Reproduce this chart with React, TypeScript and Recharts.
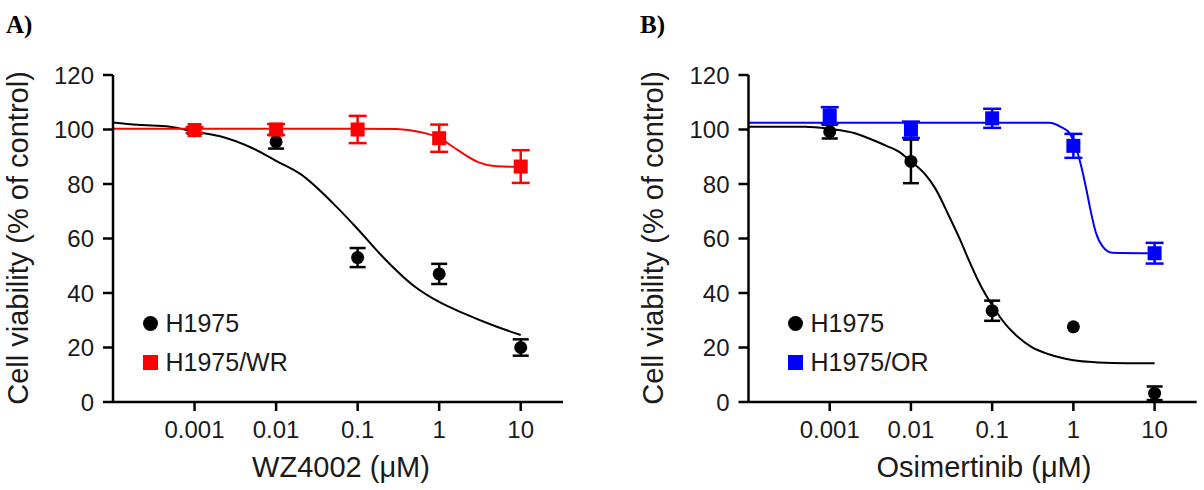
import React from 'react';
import { ComposedChart, Line, Scatter, XAxis, YAxis, ErrorBar, Legend } from 'recharts';

// Drug concentrations tested (µM)
const DOSES = [0.001, 0.01, 0.1, 1, 10];
const X_TICKS = [0.001, 0.01, 0.1, 1, 10];
const Y_TICKS = [0, 20, 40, 60, 80, 100, 120];
const X_DOMAIN: [number, number] = [0.0001, 33];

// Panel A – WZ4002
const A_H1975_MEAN = [99.5, 95.5, 53, 47, 20];
const A_H1975_SEM = [1, 2.5, 3.5, 3.7, 3];
const A_WR_MEAN = [99.8, 100, 100, 96.8, 86.4];
const A_WR_SEM = [1, 2, 5, 5, 6];

const A_H1975_FIT_X = [0.0001, 0.0002, 0.0005, 0.001, 0.002, 0.005, 0.01, 0.02, 0.05, 0.1, 0.2, 0.5, 1, 2, 5, 10];
const A_H1975_FIT_Y = [102.6, 101.7, 101.0, 99.2, 97.6, 93.3, 88.5, 83.6, 72.9, 63.5, 53.5, 42.4, 36.7, 32.5, 27.7, 24.6];
const A_WR_FIT_X = [0.0001, 0.001, 0.01, 0.1, 0.3, 0.6, 1, 1.5, 2, 3, 5, 10];
const A_WR_FIT_Y = [100.3, 100.3, 100.3, 100.3, 100.2, 99, 96.9, 93.5, 91, 88, 86.5, 86.3];

// Panel B – Osimertinib
const B_H1975_MEAN = [99.2, 88.3, 33.5, 27.6, 3.2];
const B_H1975_SEM = [2.5, 8, 3.7, 0, 2.5];
const B_OR_MEAN = [105.2, 99.9, 104.1, 94, 54.6];
const B_OR_SEM = [3, 3, 3.5, 4.4, 3.8];

const B_H1975_FIT_X = [0.0001, 0.0005, 0.001, 0.002, 0.003, 0.005, 0.007, 0.01, 0.015, 0.02, 0.03, 0.04, 0.05, 0.07, 0.1, 0.15, 0.2, 0.3, 0.5, 1, 2, 3, 10];
const B_H1975_FIT_Y = [101, 101, 100.2, 98.7, 96.8, 94, 92, 88.3, 83.5, 78.3, 67.7, 59.8, 53, 43.5, 35.5, 28.1, 24.3, 20.3, 17.5, 15.3, 14.5, 14.3, 14.2];
const B_OR_FIT_X = [0.0001, 0.5, 0.7, 0.9, 1.1, 1.25, 1.45, 1.65, 1.9, 2.3, 3, 10];
const B_OR_FIT_Y = [102.5, 102.5, 101, 98.6, 92.5, 86.5, 77.8, 69.5, 62, 57, 54.8, 54.6];

const SANS = '"Liberation Sans", Arial, Helvetica, sans-serif';
const SERIF = '"Liberation Serif", "Times New Roman", serif';
const TEXT = '#1a1a1a';
const BLACK = '#000000';
const RED = '#ff0000';
const BLUE = '#0000ff';

type Pt = { x: number; v: number; e: number };
const points = (xs: number[], ys: number[], es?: number[]): Pt[] =>
  xs.map((x, i) => ({ x, v: ys[i], e: es ? es[i] : 0 }));

const circleShape = (color: string) => (p: any) => (
  <circle cx={p.cx} cy={p.cy} r={6.5} fill={color} />
);
const squareShape = (color: string) => (p: any) => (
  <rect x={p.cx - 7} y={p.cy - 7} width={14} height={14} fill={color} />
);

type Item = { name: string; color: string; marker: 'circle' | 'square' };

const LegendBox = ({ items }: { items: Item[] }) => (
  <div style={{ fontFamily: SANS, fontSize: 25, color: TEXT }}>
    {items.map((it) => (
      <div key={it.name} style={{ display: 'flex', alignItems: 'center', height: 38.7 }}>
        <svg width={15} height={15} style={{ marginRight: 8, flex: 'none' }}>
          {it.marker === 'circle' ? (
            <circle cx={7.5} cy={7.5} r={7.5} fill={it.color} />
          ) : (
            <rect x={0} y={0} width={15} height={15} fill={it.color} />
          )}
        </svg>
        <span style={{ lineHeight: '25px', whiteSpace: 'nowrap' }}>{it.name}</span>
      </div>
    ))}
  </div>
);

type PanelProps = {
  left: number;
  width: number;
  marginLeft: number;
  marginRight: number;
  legendLeft: number;
  refMean: number[];
  refSem: number[];
  refFitX: number[];
  refFitY: number[];
  resName: string;
  resColor: string;
  resMean: number[];
  resSem: number[];
  resFitX: number[];
  resFitY: number[];
};

const Panel = (p: PanelProps) => {
  const refPts = points(DOSES, p.refMean, p.refSem);
  const resPts = points(DOSES, p.resMean, p.resSem);
  const refFit = points(p.refFitX, p.refFitY);
  const resFit = points(p.resFitX, p.resFitY);
  const items: Item[] = [
    { name: 'H1975', color: BLACK, marker: 'circle' },
    { name: p.resName, color: p.resColor, marker: 'square' },
  ];
  return (
    <div style={{ position: 'absolute', left: p.left, top: 0 }}>
      <ComposedChart
        width={p.width}
        height={490}
        margin={{ top: 75, right: p.marginRight, bottom: 48, left: p.marginLeft }}
      >
        <XAxis
          dataKey="x"
          type="number"
          scale="log"
          domain={X_DOMAIN}
          allowDataOverflow
          ticks={X_TICKS}
          tickFormatter={(v: number) => String(v)}
          height={40}
          tickSize={9}
          tickMargin={10}
          axisLine={{ stroke: BLACK, strokeWidth: 2.5 }}
          tickLine={{ stroke: BLACK, strokeWidth: 2.5 }}
          tick={{ fontSize: 24, fill: TEXT, fontFamily: SANS }}
        />
        <YAxis
          type="number"
          domain={[0, 120]}
          ticks={Y_TICKS}
          allowDataOverflow
          width={60}
          tickSize={10}
          tickMargin={9}
          axisLine={{ stroke: BLACK, strokeWidth: 2.5 }}
          tickLine={{ stroke: BLACK, strokeWidth: 2.5 }}
          tick={{ fontSize: 24, fill: TEXT, fontFamily: SANS }}
        />
        <Legend
          layout="vertical"
          align="center"
          verticalAlign="middle"
          wrapperStyle={{ left: p.legendLeft, top: 304, width: 200, height: 78 }}
          content={() => <LegendBox items={items} />}
        />
        <Line
          data={refFit}
          dataKey="v"
          type="monotone"
          stroke={BLACK}
          strokeWidth={2}
          dot={false}
          activeDot={false}
          legendType="none"
          isAnimationActive={false}
        />
        <Scatter
          name="H1975"
          data={refPts}
          dataKey="v"
          fill={BLACK}
          shape={circleShape(BLACK)}
          isAnimationActive={false}
        >
          <ErrorBar dataKey="e" direction="y" width={8} stroke={BLACK} strokeWidth={2.5} />
        </Scatter>
        <Line
          data={resFit}
          dataKey="v"
          type="monotone"
          stroke={p.resColor}
          strokeWidth={2}
          dot={false}
          activeDot={false}
          legendType="none"
          isAnimationActive={false}
        />
        <Scatter
          name={p.resName}
          data={resPts}
          dataKey="v"
          fill={p.resColor}
          shape={squareShape(p.resColor)}
          isAnimationActive={false}
        >
          <ErrorBar dataKey="e" direction="y" width={9} stroke={p.resColor} strokeWidth={2.5} />
        </Scatter>
      </ComposedChart>
    </div>
  );
};

const Titles = () => (
  <svg
    width={1204}
    height={490}
    style={{ position: 'absolute', left: 0, top: 0, pointerEvents: 'none' }}
  >
    <text x={6} y={33} fontFamily={SERIF} fontWeight="bold" fontSize={25} fill={BLACK}>A)</text>
    <text x={640} y={33} fontFamily={SERIF} fontWeight="bold" fontSize={25} fill={BLACK}>B)</text>
    <text
      x={28}
      y={238}
      transform="rotate(-90 28 238)"
      textAnchor="middle"
      fontFamily={SANS}
      fontSize={29}
      fill={TEXT}
    >
      Cell viability (% of control)
    </text>
    <text
      x={663}
      y={238}
      transform="rotate(-90 663 238)"
      textAnchor="middle"
      fontFamily={SANS}
      fontSize={29}
      fill={TEXT}
    >
      Cell viability (% of control)
    </text>
    <text x={341} y={477} textAnchor="middle" fontFamily={SANS} fontSize={29} fill={TEXT}>
      WZ4002 (μM)
    </text>
    <text x={984} y={477} textAnchor="middle" fontFamily={SANS} fontSize={29} fill={TEXT}>
      Osimertinib (μM)
    </text>
  </svg>
);

export default function App() {
  return (
    <div
      style={{
        position: 'absolute',
        left: 0,
        top: 0,
        width: 1204,
        height: 490,
        background: '#ffffff',
        overflow: 'hidden',
      }}
    >
      <Panel
        left={0}
        width={600}
        marginLeft={53}
        marginRight={37}
        legendLeft={142.5}
        refMean={A_H1975_MEAN}
        refSem={A_H1975_SEM}
        refFitX={A_H1975_FIT_X}
        refFitY={A_H1975_FIT_Y}
        resName="H1975/WR"
        resColor={RED}
        resMean={A_WR_MEAN}
        resSem={A_WR_SEM}
        resFitX={A_WR_FIT_X}
        resFitY={A_WR_FIT_Y}
      />
      <Panel
        left={600}
        width={604}
        marginLeft={88.5}
        marginRight={7.3}
        legendLeft={187.5}
        refMean={B_H1975_MEAN}
        refSem={B_H1975_SEM}
        refFitX={B_H1975_FIT_X}
        refFitY={B_H1975_FIT_Y}
        resName="H1975/OR"
        resColor={BLUE}
        resMean={B_OR_MEAN}
        resSem={B_OR_SEM}
        resFitX={B_OR_FIT_X}
        resFitY={B_OR_FIT_Y}
      />
      <Titles />
    </div>
  );
}
